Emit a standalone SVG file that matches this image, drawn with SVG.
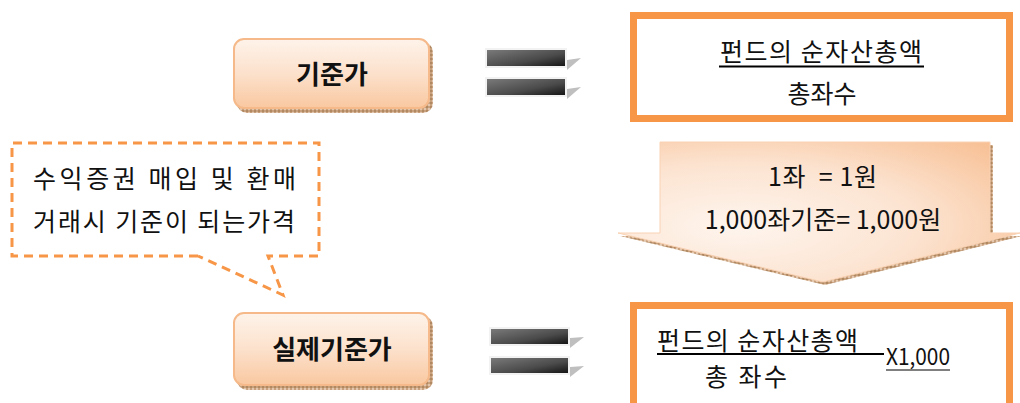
<svg xmlns="http://www.w3.org/2000/svg" width="1020" height="403" viewBox="0 0 1020 403">
<defs>
<linearGradient id="btnGrad" x1="0" y1="0" x2="0" y2="1">
<stop offset="0" stop-color="#FEF3EA"/>
<stop offset="0.5" stop-color="#FCE1CC"/>
<stop offset="1" stop-color="#F9C8A0"/>
</linearGradient>
<linearGradient id="barGrad" x1="0" y1="0" x2="1" y2="1">
<stop offset="0" stop-color="#7A7A7A"/>
<stop offset="0.6" stop-color="#4A4A4A"/>
<stop offset="1" stop-color="#151515"/>
</linearGradient>
<radialGradient id="arrowGrad" cx="0.3" cy="0.6" r="0.9">
<stop offset="0" stop-color="#FEF5EE"/>
<stop offset="0.5" stop-color="#FCE3D0"/>
<stop offset="1" stop-color="#F7BC8E"/>
</radialGradient>
<pattern id="shadowPat" width="4" height="4" patternUnits="userSpaceOnUse">
<rect width="4" height="4" fill="#C8A07C"/>
<rect width="2" height="2" fill="#E2C7AE"/>
<rect x="2" y="2" width="2" height="2" fill="#B08862"/>
</pattern>
</defs>
<style>
.btn{fill:url(#btnGrad);stroke:#F5B98A;stroke-width:2}
.shadow{fill:url(#shadowPat)}
.btnText{font-family:"Noto Sans CJK KR","Noto Sans",sans-serif;font-weight:bold;font-size:26px;fill:#111;text-anchor:middle}
.txt{font-family:"Noto Sans CJK KR","Noto Sans",sans-serif;font-size:25px;fill:#111}
.mid{text-anchor:middle}
.frame{fill:#fff;stroke:#F79646;stroke-width:7}
.barOuter{fill:#F2F2F2}
.bar{fill:url(#barGrad)}
.tri{fill:#BFBFBF}
.uline{stroke:#000;stroke-width:2}
.dash{fill:none;stroke:#F79646;stroke-width:3;stroke-dasharray:9 6}
</style>
<rect width="1020" height="403" fill="#fff"/>

<g id="node-basic-price">
<rect class="shadow" x="237" y="42" width="196" height="71" rx="10"/>
<rect class="btn" x="234" y="39" width="195" height="69" rx="10"/>
<text class="btnText" x="332" y="84">기준가</text>
</g>

<g id="node-equals-top">
<rect class="barOuter" x="485" y="48" width="82" height="20"/>
<rect class="bar" x="487" y="50" width="78" height="16"/>
<polygon class="tri" points="567,60 581,58 567,70"/>
<rect class="barOuter" x="485" y="77" width="82" height="20"/>
<rect class="bar" x="487" y="79" width="78" height="16"/>
<polygon class="tri" points="567,89 581,87 567,99"/>
</g>

<g id="node-formula-top">
<rect class="frame" x="633.5" y="15.5" width="376" height="103"/>
<text class="txt" x="720" y="61" textLength="202" lengthAdjust="spacing">펀드의  순자산총액</text>
<line class="uline" x1="719" y1="66.5" x2="924" y2="66.5"/>
<text class="txt mid" x="822" y="103">총좌수</text>
</g>

<g id="node-callout">
<path class="dash" d="M198,256 L12,256 L12,143 L319,143 L319,256 L268,256 L283,295 L198,256"/>
<text class="txt" x="33" y="188" textLength="263" lengthAdjust="spacing">수익증권 매입 및 환매</text>
<text class="txt" x="33" y="231" textLength="262" lengthAdjust="spacing">거래시 기준이 되는가격</text>
</g>

<g id="connectors">
<g id="node-arrow">
<path class="shadow" d="M663,145 L993,145 L993,236 L1022,236 L825,285 L620,236 L663,236 Z"/>
<path d="M660,142 L990,142 L990,233 L1020,233 L823,282 L618,233 L660,233 Z" fill="url(#arrowGrad)" stroke="#F9D2B4" stroke-width="1"/>
<text class="txt" x="768" y="186" textLength="109" lengthAdjust="spacing" xml:space="preserve">1좌  = 1원</text>
<text class="txt mid" x="823" y="229">1,000좌기준= 1,000원</text>
</g>
</g>

<g id="node-real-price">
<rect class="shadow" x="237" y="316" width="196" height="74" rx="10"/>
<rect class="btn" x="234" y="313" width="195" height="72" rx="10"/>
<text class="btnText" x="332" y="359">실제기준가</text>
</g>

<g id="node-equals-bottom">
<rect class="barOuter" x="489" y="327" width="81" height="19"/>
<rect class="bar" x="491" y="329" width="77" height="15"/>
<polygon class="tri" points="570,338 584,337 570,348"/>
<rect class="barOuter" x="489" y="356" width="81" height="19"/>
<rect class="bar" x="491" y="358" width="77" height="15"/>
<polygon class="tri" points="570,367 584,366 570,377"/>
</g>

<g id="node-formula-bottom">
<rect class="frame" x="633.5" y="305.5" width="376" height="120"/>
<text class="txt" x="657" y="350" textLength="201" lengthAdjust="spacing">펀드의  순자산총액</text>
<line class="uline" x1="657" y1="354" x2="884" y2="354"/>
<text class="txt" x="886" y="365" style="font-size:23px" textLength="64" lengthAdjust="spacingAndGlyphs">X1,000</text>
<line x1="886" y1="370" x2="950" y2="370" stroke="#000" stroke-width="1.2"/>
<text class="txt" x="705" y="386" textLength="82" lengthAdjust="spacing">총 좌수</text>
</g>
</svg>
